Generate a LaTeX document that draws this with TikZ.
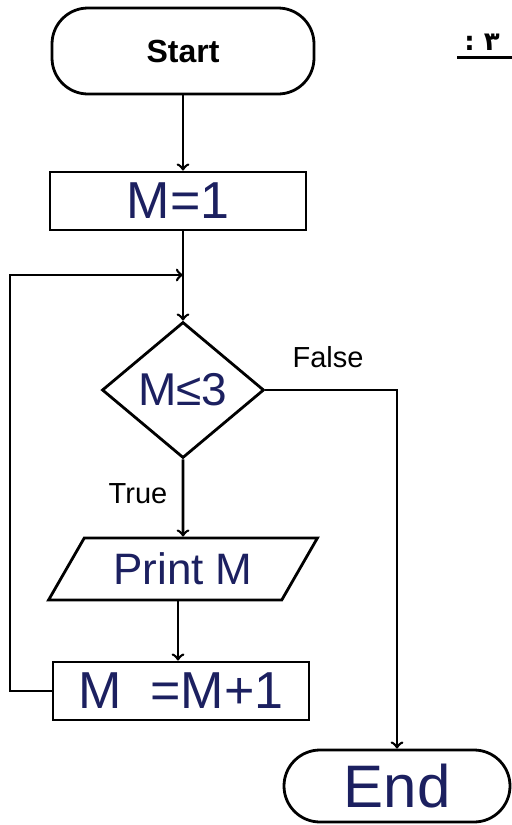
\documentclass[tikz,border=0pt]{standalone}
\usepackage{fontspec}
\setmainfont{Liberation Sans}
\newfontfamily\arabicfont[Script=Arabic]{DejaVu Sans}
\TeXXeTstate=1
\usepackage{tikz}
\usetikzlibrary{shapes.geometric}
\usetikzlibrary{positioning}
\definecolor{ink}{RGB}{28,32,96}

\begin{document}
\begin{tikzpicture}[x=0.5pt, y=-0.5pt,
        termnode/.style={draw=black, line width=1.4pt, rounded corners=18pt, inner sep=0pt},
        boxnode/.style={draw=black, line width=1.4pt, inner sep=0pt, minimum width=128pt, minimum height=29pt, text=ink, font=\fontsize{26}{28}\selectfont},
        decnode/.style={diamond, draw=black, line width=1.4pt, inner sep=0pt, minimum width=81pt, minimum height=68pt, text=ink, font=\fontsize{23}{25}\selectfont},
        ionode/.style={trapezium, trapezium left angle=52, trapezium right angle=128, trapezium stretches=true, draw=black, line width=1.4pt, inner sep=0pt, minimum width=135pt, minimum height=31pt, text=ink, font=\fontsize{22}{24}\selectfont},
        lblnode/.style={font=\fontsize{14.5}{16}\selectfont}]
        \useasboundingbox (0,0) rectangle (512,825);

        \node[termnode, minimum width=131pt, minimum height=43pt, font=\fontsize{16}{18}\selectfont\bfseries] (start) at (183,51) {Start};
        \node[boxnode] (m1) at (178,201) {M=1};
        \node[decnode] (cond) at (183,390) {M≤3};
        \node[ionode] (prnt) at (183,569) {Print M};
        \node[boxnode] (inc) at (181,691) {M\;\;=M+1};
        \node[termnode, minimum width=113pt, minimum height=36pt, text=ink, font=\fontsize{30}{32}\selectfont] (stop) at (397,786) {End};

        \node[lblnode] (false) at (328,357) {False};
        \node[lblnode] (true) at (138,494) {True};
        \node[font=\arabicfont\fontsize{13}{15}\selectfont\bfseries] (num) at (482,42) {\beginR ٣ :\endR};
        \coordinate (lp) at (10,275);

        \draw[->, line width=1.3pt] (start.south -| cond.north) -- (m1.north -| cond.north);
        \draw[->, line width=1.3pt] (m1.south -| cond.north) -- (cond.north);
        \draw[->, line width=1.3pt] (inc.west) -- (inc.west -| lp) -- (lp) -- (lp -| cond.north);
        \draw[->, line width=1.3pt] (cond.east) -| (stop.north);
        \draw[->, line width=1.3pt] (cond.south) -- (prnt.north);
        \draw[->, line width=1.3pt] (prnt.south -| m1.center) -- (m1.center |- inc.north);
        \draw[line width=1.3pt] (num.south west) -- (num.south west -| 512,0);
    \end{tikzpicture}
\end{document}
